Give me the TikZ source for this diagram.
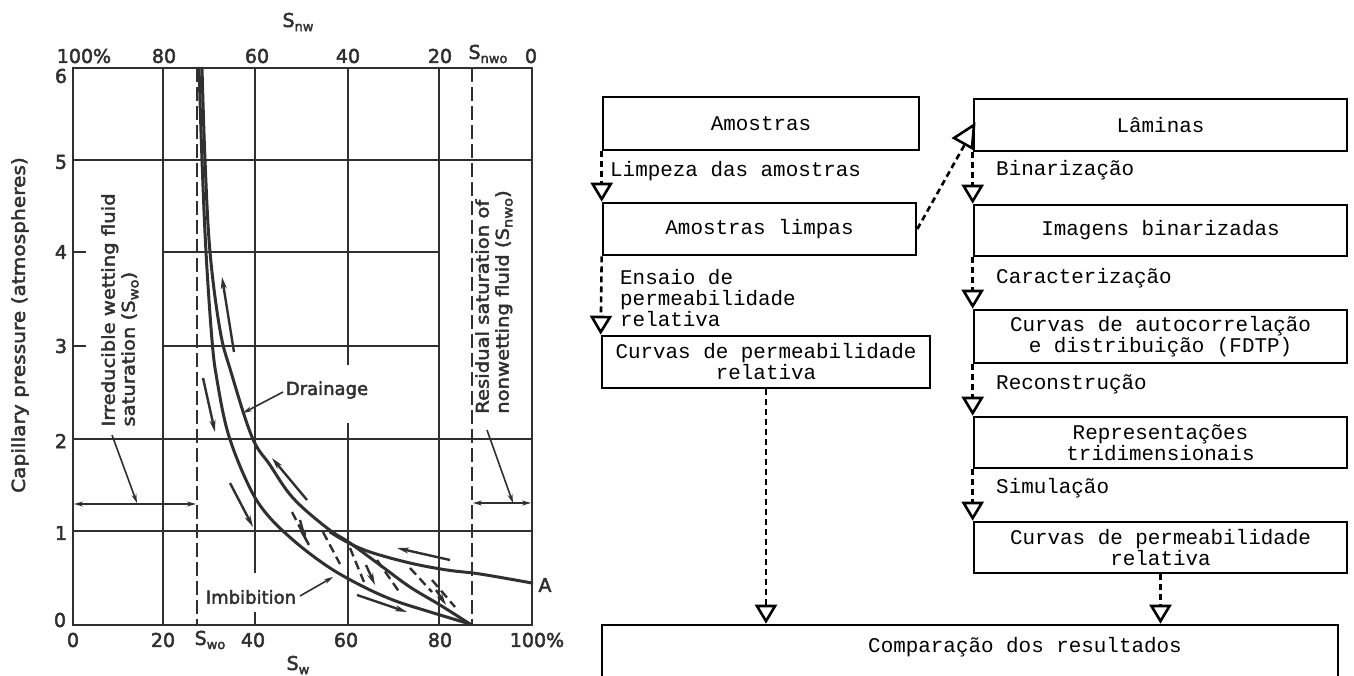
\documentclass[tikz,border=0pt]{standalone}
\usepackage{fontspec}
\setmainfont{Liberation Mono}
\newfontfamily\chartfont[FakeBold=2.5]{DejaVu Sans}
\newfontfamily\chartwide[FakeStretch=1.12,FakeBold=2.5]{DejaVu Sans}
\usetikzlibrary{arrows.meta}
\newcommand\lowsub[1]{\raisebox{-0.4ex}{\fontsize{13}{13}\selectfont #1}}
\definecolor{ink}{HTML}{303030}
\tikzset{
  box/.style={draw, line width=2.6pt, inner sep=0pt, align=center,
    font=\fontsize{20.9}{21}\selectfont},
  flow/.style={line width=2.6pt, dash pattern=on 6pt off 4pt,
    -{Triangle[open,length=19pt,width=22pt]}},
  elabel/.style={anchor=west, inner sep=0pt, align=left,
    font=\fontsize{20.9}{21}\selectfont},
  gridl/.style={draw=ink, line width=2pt},
  frame/.style={draw=ink, line width=2.6pt},
  curve/.style={draw=ink, line width=3pt, line cap=round},
  dashv/.style={draw=ink, line width=2.4pt, dash pattern=on 14pt off 5pt},
  scan/.style={draw=ink, line width=2.4pt, dash pattern=on 9pt off 5pt},
  tipd/.style={draw=ink, line width=2.4pt, -{Stealth[length=12pt,width=6pt]}},
  thin/.style={draw=ink, line width=1.6pt},
  num/.style={inner sep=0pt, text=ink, font=\chartfont\fontsize{19}{19}\selectfont},
  lab/.style={inner sep=0pt, text=ink, font=\chartfont\fontsize{18}{18}\selectfont},
  rlab/.style={inner sep=0pt, text=ink, rotate=90, align=left,
    font=\chartwide\fontsize{17.5}{20}\selectfont},
}
\begin{document}
\begin{tikzpicture}[x=1pt,y=-1pt]
\fill[white] (0,0) rectangle (1354,675);
\useasboundingbox (0,0) rectangle (1354,675);

% ---------------- chart ----------------
% grid
\draw[gridl] (73,160) -- (532,160);
\draw[gridl] (73,439) -- (532,439);
\draw[gridl] (73,531) -- (532,531);
\draw[gridl] (163,252) -- (439,252);
\draw[gridl] (163,346) -- (439,346);
\draw[gridl] (73,252) -- (86,252);
\draw[gridl] (73,346) -- (86,346);
\draw[gridl] (163,68) -- (163,625);
\draw[gridl] (439,68) -- (439,625);
\draw[gridl] (255,68) -- (255,573);
\draw[gridl] (255,612) -- (255,625);
\draw[gridl] (348,68) -- (348,365);
\draw[gridl] (348,423) -- (348,625);
\draw[frame] (73,68) rectangle (532,625);
\draw[dashv] (197,68) -- (197,625);
\draw[dashv] (472,68) -- (472,625);

% curves
\draw[curve] plot[smooth, tension=0.6] coordinates {(199,68) (202,160) (206,252) (212,340) (217,380) (228,433) (247,482) (265,512) (293,540) (327,566) (360,585) (393,600) (427,611) (470,624)};
\draw[curve] plot[smooth, tension=0.6] coordinates {(202,68) (205,160) (210,252) (220,330) (231,372) (252,437) (270,465) (293,498) (327,528) (350,543) (380,565) (410,587) (440,605) (470,624)};
\draw[curve] plot[smooth, tension=0.6] coordinates {(532,583) (480,574) (447,570) (410,563) (370,552) (347,542) (330,532)};

% scanning curves
\draw[scan] (292,512) -- (310,547);
\draw[scan] (323,532) -- (340,564);
\draw[scan] (350,548) -- (364,582);
\draw[scan] (377,560) -- (400,593);
\draw[scan] (410,568) -- (432,592);
\draw[scan] (432,580) -- (455,607);

% direction arrows
\draw[tipd] (234,352) -- (222,277);
\draw[tipd] (203,378) -- (215,432);
\draw[tipd] (307,500) -- (272,458);
\draw[tipd] (230,483) -- (253,527);
\draw[tipd] (450,560) -- (397,548);
\draw[tipd] (357,595) -- (407,612);
\draw[tipd] (300,520) -- (306,542);
\draw[tipd] (366,565) -- (375,585);
\draw[tipd] (436,590) -- (446,605);

% annotation arrows
\draw[thin, {Stealth[length=9pt,width=5pt]}-{Stealth[length=9pt,width=5pt]}] (74,504) -- (196,504);
\draw[thin, -{Stealth[length=9pt,width=5pt]}] (112,435) -- (137,503);
\draw[thin, {Stealth[length=9pt,width=5pt]}-{Stealth[length=9pt,width=5pt]}] (473,503) -- (531,503);
\draw[thin, -{Stealth[length=9pt,width=5pt]}] (487,430) -- (513,503);
\draw[thin, -{Stealth[length=9pt,width=5pt]}] (283,392) -- (243,413);
\draw[thin, -{Stealth[length=9pt,width=5pt]}] (300,596) -- (333,577);

% chart texts
\node[num] (snw) at (298,22) {S\lowsub{nw}};
\node[num] (t100) at (84,56) {100\%};
\node[num] (t80) at (164,56) {80};
\node[num] (t60) at (257,56) {60};
\node[num] (t40) at (348,56) {40};
\node[num] (t20) at (440,56) {20};
\node[num] (tsnwo) at (488,54) {S\lowsub{nwo}};
\node[num] (t0) at (531,56) {0};
\node[num] (y6) at (61,76) {6};
\node[num] (y5) at (61,162) {5};
\node[num] (y4) at (61,252) {4};
\node[num] (y3) at (61,346) {3};
\node[num] (y2) at (61,441) {2};
\node[num] (y1) at (61,533) {1};
\node[num] (y0) at (60,620) {0};
\node[num] (b0) at (73,640) {0};
\node[num] (b20) at (163,640) {20};
\node[num] (bswo) at (210,640) {S\lowsub{wo}};
\node[num] (b40) at (253,640) {40};
\node[num] (b60) at (346,640) {60};
\node[num] (b80) at (440,640) {80};
\node[num] (b100) at (537,640) {100\%};
\node[num] (bsw) at (298,665) {S\lowsub{w}};
\node[num] (ptA) at (545,585) {A};
\node[lab] (drain) at (327,390) {Drainage};
\node[lab] (imbib) at (251,597) {Imbibition};
\node[rlab, font=\chartwide\fontsize{18}{20}\selectfont] (ytitle) at (20,325) {Capillary pressure (atmospheres)};
\node[rlab] (irred) at (120,310) {Irreducible wetting fluid\\saturation (S\lowsub{wo})};
\node[rlab] (resid) at (494,302) {Residual saturation of\\nonwetting fluid (S\lowsub{nwo})};

% ---------------- flowchart ----------------
\node[box, minimum width=316pt, minimum height=53pt] (am) at (761,123.5) {Amostras};
\node[box, minimum width=313pt, minimum height=52pt] (aml) at (759.5,229) {Amostras limpas};
\node[box, minimum width=328pt, minimum height=52pt] (cpl) at (766,362) {Curvas de permeabilidade\\relativa};
\node[box, minimum width=736pt, minimum height=100pt] (comp) at (970,675) {};
\node[inner sep=0pt, font=\fontsize{20.9}{21}\selectfont] (comptext) at (1025,647) {Comparação dos resultados};

\node[box, minimum width=373pt, minimum height=52pt] (lam) at (1160.5,125) {Lâminas};
\node[box, minimum width=373pt, minimum height=51pt] (img) at (1160.5,230.5) {Imagens binarizadas};
\node[box, minimum width=373pt, minimum height=53pt] (acf) at (1160.5,336.5) {Curvas de autocorrelação\\e distribuição (FDTP)};
\node[box, minimum width=373pt, minimum height=51pt] (rep) at (1160.5,442.5) {Representações\\tridimensionais};
\node[box, minimum width=373pt, minimum height=51pt] (cpr) at (1160.5,547.5) {Curvas de permeabilidade\\relativa};

\draw[flow] (am.south west) -- (aml.north west);
\draw[flow] (aml.south west) -- (cpl.north west);
\draw[flow] (cpl.south) -- (cpl.south |- comp.north);
\draw[flow] (lam.south west) -- (img.north west);
\draw[flow] (img.south west) -- (acf.north west);
\draw[flow] (acf.south west) -- (rep.north west);
\draw[flow] (rep.south west) -- (cpr.north west);
\draw[flow] (cpr.south) -- (cpr.south |- comp.north);

\coordinate (lamtip) at (954,138);
\coordinate (lamend) at (965,144);
\draw[line width=2.6pt, dash pattern=on 6pt off 4pt] (aml.east) -- (lamend);
\draw[line width=2.6pt, fill=white, line join=miter] (lamtip) -- (974,125) -- (972,148) -- cycle;

\node[elabel] (l1) at (610,171) {Limpeza das amostras};
\node[elabel] (l2) at (620,298) {Ensaio de\\permeabilidade\\relativa};
\node[elabel] (l3) at (996,170) {Binarização};
\node[elabel] (l4) at (996,278) {Caracterização};
\node[elabel] (l5) at (996,384) {Reconstrução};
\node[elabel] (l6) at (996,488) {Simulação};
\end{tikzpicture}
\end{document}
